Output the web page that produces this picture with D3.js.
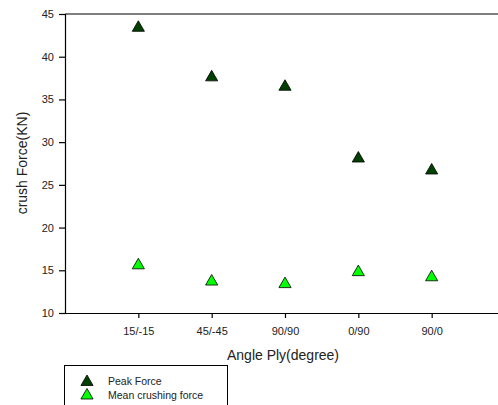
<!DOCTYPE html>
<html><head><meta charset="utf-8">
<script src="https://cdn.jsdelivr.net/npm/d3@7"></script>
<style>body{margin:0;background:#fff}svg{display:block}text{font-family:"Liberation Sans",Arial,sans-serif;fill:#222}</style>
</head><body><svg id="c" width="498" height="405"></svg>
<script>
const categories = ["15/-15","45/-45","90/90","0/90","90/0"];
const peakForce = [43.5, 37.7, 36.6, 28.2, 26.8];
const meanForce = [15.7, 13.8, 13.5, 14.9, 14.3];
const yTicks = [10,15,20,25,30,35,40,45];
const seriesNames = ["Peak Force","Mean crushing force"];
const seriesColors = ["#004000","#00ff00"];

const svg = d3.select("#c");
const L = 65, T = 14, B = 313, R = 505;
const x = d3.scaleLinear().domain([0,6]).range([L,R]);
const y = d3.scaleLinear().domain([10,45]).range([B,T]);

svg.append("line").attr("x1",L).attr("x2",R).attr("y1",T).attr("y2",T).attr("stroke","#000").attr("stroke-width",1.2);

const yAx = svg.append("g").attr("transform",`translate(${L},0)`)
  .call(d3.axisLeft(y).tickValues(yTicks).tickSize(6).tickPadding(5).tickFormat(d3.format("d")));
const xAx = svg.append("g").attr("transform",`translate(0,${B})`)
  .call(d3.axisBottom(x).tickValues(categories.map((c,i)=>i+1)).tickSize(5).tickPadding(9).tickFormat((d,i)=>categories[i]));
xAx.select(".domain").attr("d",`M${L},0.5H${R}`);
[yAx,xAx].forEach(a=>{
  a.selectAll("path,line").attr("stroke","#000").attr("stroke-width",1.2);
  a.selectAll("text").style("font-size","11px").attr("fill","#222");
});

const tri = d3.symbol().type(d3.symbolTriangle).size(64);
function drawSeries(vals, color){
  svg.append("g").selectAll("path").data(vals).join("path")
    .attr("d",tri)
    .attr("transform",(d,i)=>`translate(${x(i+1)},${y(d)+1})`)
    .attr("fill",color).attr("stroke","#000").attr("stroke-width",0.8);
}
drawSeries(peakForce, seriesColors[0]);
drawSeries(meanForce, seriesColors[1]);

svg.append("text").attr("transform","translate(27,163) rotate(-90)").attr("text-anchor","middle")
  .style("font-size","14px").text("crush Force(KN)");
svg.append("text").attr("x",283).attr("y",360).attr("text-anchor","middle")
  .style("font-size","14px").text("Angle Ply(degree)");

const lg = svg.append("g");
lg.append("rect").attr("x",64.5).attr("y",365.5).attr("width",163).attr("height",50)
  .attr("fill","#fff").attr("stroke","#000").attr("stroke-width",1);
seriesNames.forEach((n,i)=>{
  const yy = 381 + i*13.5;
  lg.append("path").attr("d",tri).attr("transform",`translate(87,${yy+1})`)
    .attr("fill",seriesColors[i]).attr("stroke","#000").attr("stroke-width",0.8);
  lg.append("text").attr("x",108).attr("y",yy+4).style("font-size","10.5px").text(n);
});
</script></body></html>
